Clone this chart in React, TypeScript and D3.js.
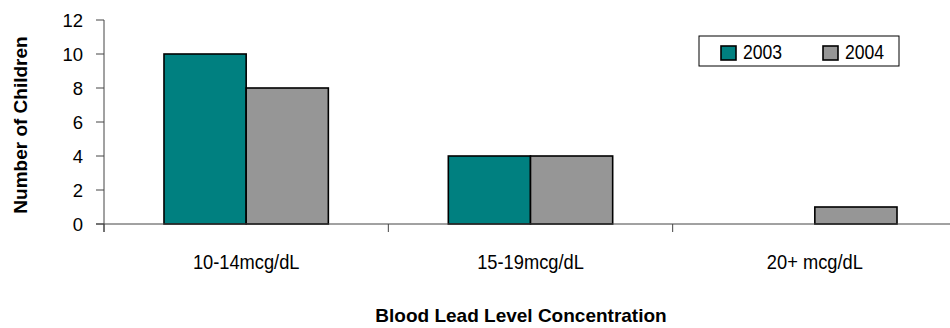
import * as d3 from 'd3';

const categories = ['10-14mcg/dL', '15-19mcg/dL', '20+ mcg/dL'];
const seriesNames = ['2003', '2004'];
const values2003 = [10, 4, 0];
const values2004 = [8, 4, 1];
const yTicks = [0, 2, 4, 6, 8, 10, 12];
const seriesColors = ['#008080', '#969696'];

const W = 950;
const H = 328;
const FONT = '"Liberation Sans", Arial, sans-serif';

export default function App() {
  const margin = { left: 104, top: 20, right: -7, bottom: 104 };
  const plotBottom = H - margin.bottom;

  const x0 = d3
    .scaleBand<string>()
    .domain(categories)
    .range([margin.left, W - margin.right])
    .padding(0);
  const x1 = d3
    .scaleBand<string>()
    .domain(seriesNames)
    .range([0, x0.bandwidth()])
    .paddingInner(0)
    .paddingOuter(0.73);
  const y = d3.scaleLinear().domain([0, 12]).range([plotBottom, margin.top]);

  const seriesValues = [values2003, values2004];
  const bars = categories.flatMap((c, i) =>
    seriesNames.map((s, j) => ({ c, s, v: seriesValues[j][i], color: seriesColors[j] }))
  );

  const catTicks = [...categories.map((c) => x0(c) || 0), W - margin.right];

  return (
    <svg
      width={W}
      height={H}
      style={{ position: 'fixed', left: 0, top: 0, background: '#fff' }}
      fontFamily={FONT}
    >
      {/* bars */}
      {bars
        .filter((b) => b.v > 0)
        .map((b) => (
          <rect
            key={b.c + b.s}
            x={(x0(b.c) || 0) + (x1(b.s) || 0)}
            y={y(b.v)}
            width={x1.bandwidth()}
            height={plotBottom - y(b.v)}
            fill={b.color}
            stroke="#000"
            strokeWidth={1.6}
          />
        ))}

      {/* y axis */}
      <line x1={margin.left} x2={margin.left} y1={margin.top} y2={plotBottom + 8} stroke="#444" />
      {yTicks.map((t) => (
        <g key={t}>
          <line x1={margin.left - 8} x2={margin.left} y1={y(t)} y2={y(t)} stroke="#444" />
          <text
            x={margin.left - 21}
            y={y(t)}
            dy="0.36em"
            textAnchor="end"
            fontSize={18.5}
            fill="#000"
          >
            {t}
          </text>
        </g>
      ))}

      {/* x axis */}
      <line x1={margin.left - 8} x2={W} y1={plotBottom} y2={plotBottom} stroke="#444" />
      {catTicks.map((px, i) => (
        <line key={i} x1={px} x2={px} y1={plotBottom} y2={plotBottom + 8} stroke="#444" />
      ))}
      {categories.map((c) => (
        <text
          key={c}
          transform={`translate(${(x0(c) || 0) + x0.bandwidth() / 2}, ${plotBottom + 45}) scale(0.87, 1)`}
          textAnchor="middle"
          fontSize={21}
          fill="#000"
        >
          {c}
        </text>
      ))}

      {/* axis titles */}
      <text x={521} y={322} textAnchor="middle" fontSize={19} fontWeight="bold" fill="#000">
        Blood Lead Level Concentration
      </text>
      <text
        transform="translate(27, 125) rotate(-90)"
        textAnchor="middle"
        fontSize={19}
        fontWeight="bold"
        fill="#000"
      >
        Number of Children
      </text>

      {/* legend */}
      <rect x={699} y={36} width={200} height={30} fill="#fff" stroke="#000" strokeWidth={1} />
      {seriesNames.map((s, i) => (
        <g key={s} transform={`translate(${721 + i * 102}, 46)`}>
          <rect width={15} height={14} fill={seriesColors[i]} stroke="#000" strokeWidth={1.6} />
          <text transform="translate(22, 13) scale(0.88, 1)" fontSize={20} fill="#000">
            {s}
          </text>
        </g>
      ))}
    </svg>
  );
}
